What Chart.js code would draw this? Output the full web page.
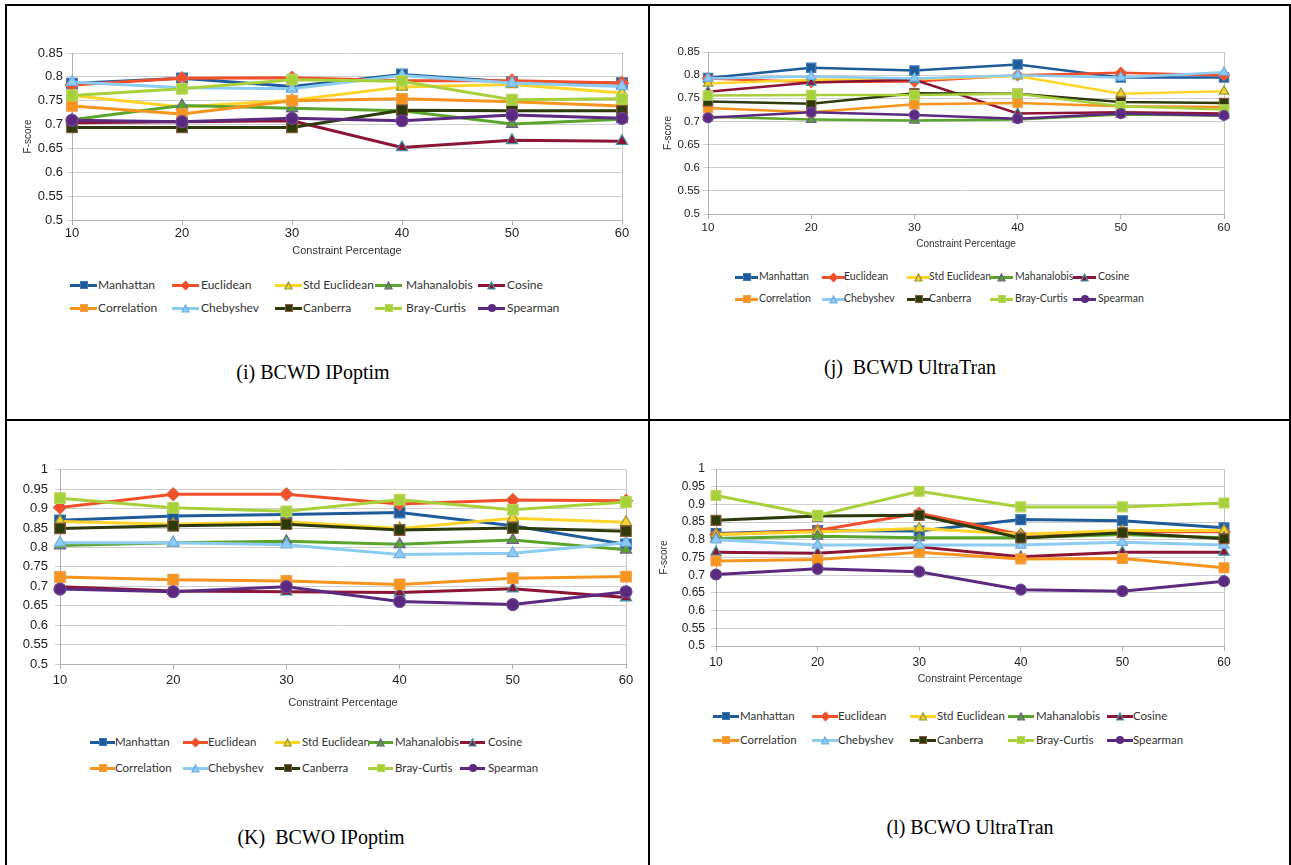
<!DOCTYPE html>
<html>
<head>
<meta charset="utf-8">
<script src="https://cdn.jsdelivr.net/npm/chart.js@4.4.1/dist/chart.umd.min.js"></script>
<style>
  html, body { margin: 0; padding: 0; background: #fff; }
  body { width: 1291px; height: 865px; position: relative; overflow: hidden; }
  .ln { position: absolute; background: #000; }
  canvas.pc { position: absolute; }
  .cap { position: absolute; font-family: "Liberation Serif", "Times New Roman", serif; font-size: 20px; color: #000; white-space: pre; transform: translate(-50%, -50%); }
  .lg { position: absolute; white-space: nowrap; font-family: Lato, "Open Sans", sans-serif; color: #333; }
  .lgline { position: absolute; height: 3px; }
  .lgmk { position: absolute; }
</style>
</head>
<body>
<div class="ln" style="left:5px;top:4px;width:1286px;height:2px"></div>
<div class="ln" style="left:5px;top:4px;width:2px;height:861px"></div>
<div class="ln" style="left:648px;top:4px;width:2px;height:861px"></div>
<div class="ln" style="left:1289px;top:4px;width:2px;height:861px"></div>
<div class="ln" style="left:5px;top:419px;width:1286px;height:2px"></div>

<script>
// ---------------- DATA ----------------
const categories = ['10', '20', '30', '40', '50', '60'];
const seriesNames = ['Manhattan', 'Euclidean', 'Std Euclidean', 'Mahanalobis', 'Cosine',
                     'Correlation', 'Chebyshev', 'Canberra', 'Bray-Curtis', 'Spearman'];
const xAxisTitle = 'Constraint Percentage';
const yAxisTitle = 'F-score';
const captions = ['(i) BCWD IPoptim', '(j)  BCWD UltraTran', '(K)  BCWO IPoptim', '(l) BCWO UltraTran'];

// (i) BCWD IPoptim — rows follow seriesNames
const valuesBCWDIPoptim = [
  [0.786, 0.797, 0.780, 0.805, 0.789, 0.787],
  [0.783, 0.797, 0.798, 0.792, 0.792, 0.787],
  [0.761, 0.737, 0.751, 0.779, 0.784, 0.766],
  [0.710, 0.740, 0.734, 0.729, 0.701, 0.711],
  [0.704, 0.706, 0.708, 0.652, 0.667, 0.665],
  [0.739, 0.722, 0.750, 0.754, 0.748, 0.739],
  [0.789, 0.777, 0.775, 0.803, 0.787, 0.780],
  [0.694, 0.694, 0.694, 0.730, 0.729, 0.729],
  [0.761, 0.775, 0.794, 0.791, 0.752, 0.754],
  [0.709, 0.706, 0.713, 0.708, 0.720, 0.713]
];
// (j) BCWD UltraTran
const valuesBCWDUltraTran = [
  [0.794, 0.816, 0.810, 0.823, 0.795, 0.795],
  [0.793, 0.785, 0.786, 0.800, 0.805, 0.800],
  [0.782, 0.790, 0.791, 0.798, 0.760, 0.765],
  [0.710, 0.704, 0.702, 0.704, 0.715, 0.713],
  [0.764, 0.784, 0.790, 0.717, 0.720, 0.717],
  [0.729, 0.720, 0.737, 0.740, 0.733, 0.731],
  [0.793, 0.797, 0.793, 0.800, 0.795, 0.806],
  [0.743, 0.738, 0.761, 0.760, 0.742, 0.740],
  [0.756, 0.757, 0.757, 0.760, 0.733, 0.726],
  [0.708, 0.720, 0.714, 0.706, 0.717, 0.713]
];
// (K) BCWO IPoptim
const valuesBCWOIPoptim = [
  [0.870, 0.881, 0.885, 0.890, 0.856, 0.808],
  [0.903, 0.937, 0.937, 0.912, 0.922, 0.920],
  [0.867, 0.860, 0.866, 0.849, 0.875, 0.865],
  [0.805, 0.812, 0.816, 0.808, 0.819, 0.794],
  [0.699, 0.688, 0.686, 0.684, 0.694, 0.671],
  [0.724, 0.717, 0.714, 0.705, 0.721, 0.725],
  [0.812, 0.812, 0.807, 0.782, 0.785, 0.812],
  [0.849, 0.856, 0.860, 0.845, 0.850, 0.842],
  [0.927, 0.902, 0.893, 0.923, 0.897, 0.917],
  [0.693, 0.686, 0.699, 0.661, 0.653, 0.686]
];
// (l) BCWO UltraTran
const valuesBCWOUltraTran = [
  [0.818, 0.826, 0.825, 0.857, 0.854, 0.834],
  [0.815, 0.826, 0.875, 0.815, 0.823, 0.823],
  [0.815, 0.823, 0.832, 0.816, 0.826, 0.826],
  [0.804, 0.810, 0.806, 0.806, 0.815, 0.806],
  [0.765, 0.762, 0.780, 0.752, 0.765, 0.765],
  [0.740, 0.744, 0.765, 0.746, 0.747, 0.721],
  [0.800, 0.785, 0.785, 0.785, 0.793, 0.785],
  [0.855, 0.867, 0.869, 0.805, 0.820, 0.803],
  [0.925, 0.869, 0.937, 0.893, 0.893, 0.904],
  [0.702, 0.718, 0.710, 0.659, 0.655, 0.683]
];
const yRangeBCWD = [0.5, 0.85];
const yRangeBCWO = [0.5, 1.0];
const yStep = 0.05;

// ---------------- STYLES ----------------
const lineColors   = ['#1f5b9a', '#f2502a', '#ffd42a', '#5ca52d', '#8c1535', '#f7941d', '#8ccbf2', '#2d3b0c', '#a7d03b', '#5b2a80'];
const markerFills  = ['#1f5b9a', '#f2502a', '#f2d233', '#5ca52d', '#8c1535', '#f7941d', '#8ccbf2', '#2d3b0c', '#a7d03b', '#5b2a80'];
const markerEdges  = ['#3a78b8', '#e8603a', '#9a9a30', '#6d6190', '#3f97a6', '#f2a04a', '#73aee2', '#8b5a3c', '#b6d95c', '#6e4a93'];
const markerShapes = ['rect', 'rectRot', 'triangle', 'triangle', 'triangle', 'rect', 'triangle', 'rect', 'rect', 'circle'];

const panels = [
  { values: valuesBCWDIPoptim, yr: yRangeBCWD, L: 72, T: 53, R: 622, B: 220, cl: 10, tick: 13, xLabY: 233, titleY: 251, titleFont: 11,
    fTitle: true, fX: 28, yLabRight: 63, pr: 6.5, lw: 3,
    cap: [313, 372], lg: { lines: [70, 172, 275, 375, 478], texts: [98, 201, 303, 406, 507], rows: [285, 308], font: 12, len: 27 } },
  { values: valuesBCWDUltraTran, yr: yRangeBCWD, L: 708, T: 52, R: 1224, B: 214, cl: 654, tick: 11.5, xLabY: 228, titleY: 244, titleFont: 10,
    fTitle: true, fX: 668, yLabRight: 700, pr: 5.5, lw: 2.5,
    cap: [910, 367], lg: { lines: [735, 822, 907, 990, 1073], texts: [759, 844, 929, 1015, 1098], rows: [277, 299], font: 10.5, len: 23 } },
  { values: valuesBCWOIPoptim, yr: yRangeBCWO, L: 60, T: 469, R: 626, B: 664, cl: 10, tick: 13, xLabY: 680, titleY: 703, titleFont: 11,
    fTitle: false, fX: 24, yLabRight: 48, pr: 6.5, lw: 3,
    cap: [321, 837], lg: { lines: [90, 183, 275, 368, 460], texts: [115, 208, 302, 395, 488], rows: [742, 768], font: 11.5, len: 25 } },
  { values: valuesBCWOUltraTran, yr: yRangeBCWO, L: 716, T: 469, R: 1224, B: 646, cl: 654, tick: 12, xLabY: 663, titleY: 679, titleFont: 10.5,
    fTitle: true, fX: 664, yLabRight: 705, pr: 6, lw: 3,
    cap: [970, 827], lg: { lines: [713, 812, 910, 1008, 1107], texts: [740, 838, 937, 1036, 1133], rows: [716, 740], font: 11.5, len: 26 } }
];

const framePlugin = {
  id: 'frame',
  beforeDatasetsDraw(chart) {
    const a = chart.chartArea, c = chart.ctx;
    c.save();
    c.strokeStyle = '#c4c4c4';
    c.lineWidth = 1;
    c.beginPath();
    c.moveTo(Math.round(a.right) + 0.5, a.top);
    c.lineTo(Math.round(a.right) + 0.5, a.bottom);
    c.stroke();
    c.restore();
  }
};

function fmt(v) { return String(+(+v).toFixed(2)); }

panels.forEach((p, pi) => {
  const topPad = 14, rightPad = 14;
  const cTop = p.T - topPad;
  const yw = p.L - p.cl;
  const titleLH = p.titleFont * 1.2;
  const xh = Math.round(p.titleY + titleLH / 2 - p.B);
  const cw = p.R - p.cl + rightPad;
  const ch = p.B + xh - cTop;
  const cv = document.createElement('canvas');
  cv.className = 'pc';
  cv.width = cw; cv.height = ch;
  cv.style.left = p.cl + 'px'; cv.style.top = cTop + 'px';
  cv.style.width = cw + 'px'; cv.style.height = ch + 'px';
  document.body.appendChild(cv);

  const tickLH = p.tick * 1.2;
  const xTickPad = Math.max(0, p.xLabY - p.B - 5 - tickLH / 2);
  const yTickPad = Math.max(0, p.L - 5 - p.yLabRight);

  const datasets = seriesNames.map((name, i) => ({
    label: name,
    data: p.values[i],
    borderColor: lineColors[i],
    backgroundColor: markerFills[i],
    pointBackgroundColor: markerFills[i],
    pointBorderColor: markerEdges[i],
    pointBorderWidth: 1.2,
    pointStyle: markerShapes[i],
    pointRadius: markerShapes[i] === 'rect' ? p.pr + 1 : (markerShapes[i] === 'circle' ? p.pr - 0.5 : p.pr),
    borderWidth: p.lw,
    tension: 0,
    fill: false,
    order: 10 - i
  }));

  new Chart(cv, {
    type: 'line',
    data: { labels: categories, datasets },
    plugins: [framePlugin],
    options: {
      responsive: false,
      animation: false,
      devicePixelRatio: 1,
      layout: { padding: { left: 0, top: topPad, right: rightPad, bottom: 0 } },
      plugins: { legend: { display: false }, tooltip: { enabled: false }, title: { display: false } },
      scales: {
        x: {
          type: 'category',
          offset: false,
          grid: { display: true, drawOnChartArea: false, drawTicks: true, tickLength: 5, color: '#b0b0b0' },
          border: { display: true, color: '#b0b0b0' },
          ticks: { color: '#222', font: { family: 'Liberation Sans, Arial, sans-serif', size: p.tick }, padding: xTickPad, maxRotation: 0, autoSkip: false },
          title: { display: true, text: xAxisTitle, color: '#333', font: { family: 'Liberation Sans, Arial, sans-serif', size: p.titleFont }, padding: 0 },
          afterFit(s) { s.height = xh; }
        },
        y: {
          min: p.yr[0], max: p.yr[1],
          grid: { color: '#cfcfcf', lineWidth: 1, drawTicks: true, tickLength: 5 },
          border: { display: true, color: '#b0b0b0' },
          ticks: { stepSize: yStep, color: '#222', font: { family: 'Liberation Sans, Arial, sans-serif', size: p.tick }, padding: yTickPad, callback: (v) => fmt(v) },
          title: { display: p.fTitle, text: yAxisTitle, color: '#333', font: { family: 'Liberation Sans, Arial, sans-serif', size: 10 }, padding: { top: Math.max(0, p.fX - p.cl - 6), bottom: 0 } },
          afterFit(s) { s.width = yw; }
        }
      }
    }
  });

  // caption
  const cap = document.createElement('div');
  cap.className = 'cap';
  cap.textContent = captions[pi];
  cap.style.left = p.cap[0] + 'px'; cap.style.top = p.cap[1] + 'px';
  document.body.appendChild(cap);

  // legend (HTML)
  seriesNames.forEach((name, i) => {
    const col = i % 5, row = Math.floor(i / 5);
    const x0 = p.lg.lines[col], y0 = p.lg.rows[row];
    const line = document.createElement('div');
    line.className = 'lgline';
    line.style.left = x0 + 'px'; line.style.top = (y0 - 1.5) + 'px';
    line.style.width = p.lg.len + 'px'; line.style.background = lineColors[i];
    document.body.appendChild(line);
    const mk = document.createElement('div');
    mk.className = 'lgmk';
    const cx = x0 + p.lg.len / 2;
    const shape = markerShapes[i];
    let s = 8;
    if (shape === 'rect') {
      s = 8;
      mk.style.width = s + 'px'; mk.style.height = s + 'px';
      mk.style.background = markerFills[i];
      mk.style.boxSizing = 'border-box'; mk.style.border = '1px solid ' + markerEdges[i];
    } else if (shape === 'rectRot') {
      s = 7;
      mk.style.width = s + 'px'; mk.style.height = s + 'px';
      mk.style.background = markerFills[i];
      mk.style.transform = 'rotate(45deg)';
    } else if (shape === 'triangle') {
      s = 9;
      mk.style.width = s + 'px'; mk.style.height = s + 'px';
      mk.style.background = markerEdges[i];
      mk.style.clipPath = 'polygon(50% 0, 100% 100%, 0 100%)';
      const inner = document.createElement('div');
      inner.style.position = 'absolute';
      inner.style.left = '2px'; inner.style.top = '3px'; inner.style.width = '5px'; inner.style.height = '5px';
      inner.style.background = markerFills[i];
      inner.style.clipPath = 'polygon(50% 0, 100% 100%, 0 100%)';
      mk.appendChild(inner);
    } else {
      s = 8;
      mk.style.width = s + 'px'; mk.style.height = s + 'px';
      mk.style.background = markerFills[i];
      mk.style.borderRadius = '50%';
    }
    mk.style.left = (cx - s / 2) + 'px'; mk.style.top = (y0 - s / 2) + 'px';
    document.body.appendChild(mk);
    const t = document.createElement('div');
    t.className = 'lg';
    t.textContent = name;
    t.style.fontSize = p.lg.font + 'px';
    t.style.left = p.lg.texts[col] + 'px';
    t.style.top = (y0 - p.lg.font * 0.62) + 'px';
    t.style.lineHeight = '1.2';
    document.body.appendChild(t);
  });
});
</script>
</body>
</html>
